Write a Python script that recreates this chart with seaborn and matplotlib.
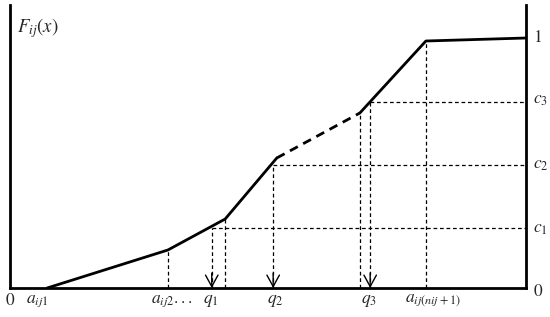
import pandas as pd
import matplotlib
matplotlib.use('Agg')
import matplotlib.pyplot as plt
import seaborn as sns

# 분포함수 꺾은선 데이터 (x 축 0~100 임의 단위, y 축 0~1)
curve_x = [7.2, 30.6, 41.7, 51.7, 67.8, 80.6, 100.0]
curve_y = [0.0, 0.152, 0.276, 0.52, 0.70, 0.988, 1.0]
dashed_seg = (3, 4)  # 이 구간은 점선

q_vals = [39.1, 51.0, 69.8]
c_vals = [0.24, 0.492, 0.744]
guide_x = [30.6, 41.7, 67.8, 80.6]
guide_top = [0.152, 0.276, 0.70, 0.988]

bottom_labels = ['0', r'$a_{ij1}$', r'$a_{ij2}...$', r'$q_1$', r'$q_2$', r'$q_3$', r'$a_{ij(nij+1)}$']
right_labels = ['0', r'$c_1$', r'$c_2$', r'$c_3$', '1']

sns.set_style('white')
plt.rcParams['font.family'] = ['STIXGeneral', 'DejaVu Serif']
plt.rcParams['mathtext.fontset'] = 'stix'

fig = plt.figure(figsize=(5.5, 3.17), dpi=100)
ax = fig.add_axes([10 / 550, 29 / 317, 516 / 550, 283 / 317])
ax.set_xlim(0, 100)
ax.set_ylim(0, 1.132)

# 곡선: 실선 / 점선 / 실선
df = pd.DataFrame({'x': curve_x, 'y': curve_y})
i, j = dashed_seg
sns.lineplot(data=df.iloc[:i + 1], x='x', y='y', color='black', lw=2,
             sort=False, estimator=None, ax=ax)
sns.lineplot(data=df.iloc[i:j + 1], x='x', y='y', color='black', lw=2,
             sort=False, estimator=None, ax=ax, dashes=False)
ax.lines[-1].set_dashes((3.2, 2.2))
sns.lineplot(data=df.iloc[j:], x='x', y='y', color='black', lw=2,
             sort=False, estimator=None, ax=ax)

thin = dict(color='black', lw=0.9, dashes=(3, 2.2))

# 보조 점선 (세로)
for gx, gt in zip(guide_x, guide_top):
    ax.plot([gx, gx], [0, gt], **thin)

# c 수평선 + q 화살표
for q, c in zip(q_vals, c_vals):
    ax.plot([q, 100], [c, c], **thin)
    ax.plot([q, q], [0, c], **thin)
    ax.annotate('', xy=(q, 0), xytext=(q, 0.06),
                arrowprops=dict(arrowstyle='->,head_length=0.55,head_width=0.3',
                                lw=1, color='black', mutation_scale=15,
                                shrinkA=0, shrinkB=0))

# 축 스타일
for side in ['left', 'right', 'bottom']:
    ax.spines[side].set_visible(True)
    ax.spines[side].set_linewidth(2)
    ax.spines[side].set_color('black')
ax.spines['top'].set_visible(False)
ax.set_xticks([])
ax.set_yticks([])
ax.set_xlabel('')
ax.set_ylabel('')

# 아래쪽 레이블
bx = [0, 5.2, 31.4, 39.0, 51.4, 69.6, 82.0]
for x, lab in zip(bx, bottom_labels):
    ax.text(x, -0.05, lab, ha='center', va='center', fontsize=12.5, clip_on=False)

# 오른쪽 레이블
ry = [-0.016, 0.236, 0.492, 0.752, 1.0]
for y, lab in zip(ry, right_labels):
    ax.text(101.4, y, lab, ha='left', va='center', fontsize=12.5, clip_on=False)

ax.text(1.3, 1.04, r'$F_{ij}(x)$', ha='left', va='center', fontsize=13.5)

fig.savefig('out.png', dpi=100)
